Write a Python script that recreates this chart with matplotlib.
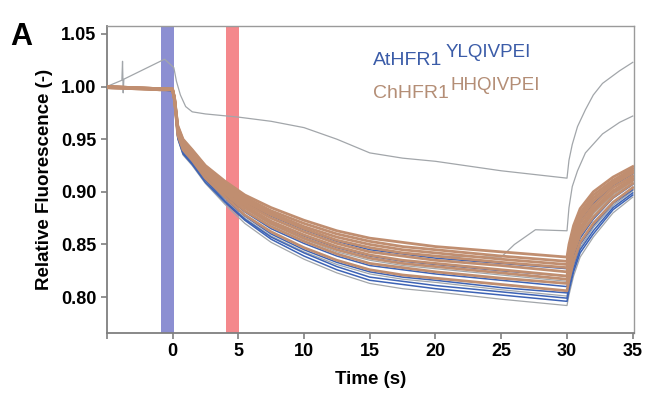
import matplotlib
matplotlib.use("Agg")
import matplotlib.pyplot as plt

plt.rcParams['font.family'] = ['Liberation Sans', 'DejaVu Sans']

# time points (s) at which the bundle traces were read
t_bundle = [-5, -1, 0, 0.15, 0.4, 0.8, 1.5, 2.5, 4, 5.5, 7.5, 10, 12.5, 15, 17.5, 20,
            25, 30, 30.15, 30.5, 31, 32, 33.5, 35]

# ChHFR1 HHQIVPEI traces (brown)
brown_traces = [
    [1.000, 0.998, 0.998, 0.990, 0.963, 0.950, 0.940, 0.925, 0.910, 0.897, 0.885, 0.873, 0.863, 0.856, 0.852, 0.848, 0.843, 0.838, 0.850, 0.868, 0.884, 0.900, 0.914, 0.924],
    [1.000, 0.998, 0.998, 0.990, 0.962, 0.949, 0.939, 0.924, 0.908, 0.895, 0.882, 0.870, 0.860, 0.853, 0.848, 0.845, 0.839, 0.834, 0.846, 0.864, 0.880, 0.897, 0.911, 0.922],
    [0.999, 0.998, 0.997, 0.989, 0.961, 0.948, 0.938, 0.922, 0.907, 0.893, 0.880, 0.867, 0.857, 0.850, 0.845, 0.842, 0.836, 0.831, 0.843, 0.861, 0.877, 0.894, 0.909, 0.920],
    [1.000, 0.997, 0.997, 0.989, 0.960, 0.947, 0.937, 0.921, 0.905, 0.891, 0.878, 0.865, 0.854, 0.847, 0.842, 0.839, 0.833, 0.828, 0.839, 0.857, 0.874, 0.891, 0.907, 0.918],
    [0.999, 0.998, 0.997, 0.989, 0.959, 0.946, 0.936, 0.920, 0.903, 0.889, 0.875, 0.862, 0.851, 0.843, 0.839, 0.835, 0.830, 0.824, 0.836, 0.854, 0.870, 0.887, 0.904, 0.915],
    [1.000, 0.998, 0.997, 0.988, 0.958, 0.944, 0.934, 0.918, 0.902, 0.887, 0.872, 0.859, 0.848, 0.840, 0.835, 0.832, 0.826, 0.820, 0.832, 0.850, 0.866, 0.884, 0.901, 0.913],
    [0.999, 0.997, 0.997, 0.988, 0.957, 0.943, 0.933, 0.917, 0.900, 0.885, 0.870, 0.856, 0.845, 0.837, 0.832, 0.829, 0.823, 0.817, 0.828, 0.846, 0.863, 0.881, 0.899, 0.911],
    [1.000, 0.998, 0.997, 0.987, 0.956, 0.942, 0.932, 0.916, 0.898, 0.882, 0.867, 0.853, 0.841, 0.832, 0.828, 0.824, 0.818, 0.813, 0.824, 0.842, 0.859, 0.876, 0.895, 0.908],
    [0.999, 0.997, 0.997, 0.987, 0.954, 0.940, 0.930, 0.913, 0.895, 0.878, 0.862, 0.847, 0.835, 0.826, 0.821, 0.818, 0.812, 0.806, 0.816, 0.834, 0.852, 0.870, 0.890, 0.904],
]

# AtHFR1 YLQIVPEI traces (blue)
blue_traces = [
    [1.000, 0.998, 0.997, 0.989, 0.960, 0.946, 0.936, 0.921, 0.905, 0.890, 0.877, 0.864, 0.853, 0.845, 0.841, 0.837, 0.832, 0.827, 0.838, 0.856, 0.873, 0.889, 0.906, 0.917],
    [0.999, 0.997, 0.997, 0.988, 0.958, 0.944, 0.934, 0.918, 0.901, 0.886, 0.872, 0.858, 0.847, 0.839, 0.834, 0.831, 0.825, 0.820, 0.831, 0.849, 0.866, 0.883, 0.900, 0.912],
    [1.000, 0.998, 0.997, 0.987, 0.955, 0.941, 0.931, 0.915, 0.897, 0.881, 0.865, 0.851, 0.839, 0.830, 0.826, 0.822, 0.816, 0.810, 0.821, 0.839, 0.856, 0.874, 0.894, 0.907],
    [0.999, 0.997, 0.996, 0.986, 0.953, 0.939, 0.929, 0.912, 0.894, 0.877, 0.860, 0.845, 0.833, 0.824, 0.819, 0.816, 0.809, 0.804, 0.814, 0.832, 0.850, 0.868, 0.889, 0.902],
    [1.000, 0.998, 0.997, 0.986, 0.952, 0.937, 0.927, 0.911, 0.891, 0.874, 0.857, 0.842, 0.829, 0.819, 0.815, 0.811, 0.805, 0.799, 0.809, 0.827, 0.845, 0.863, 0.885, 0.899],
    [0.999, 0.997, 0.996, 0.985, 0.951, 0.936, 0.926, 0.909, 0.890, 0.873, 0.855, 0.839, 0.826, 0.816, 0.812, 0.808, 0.802, 0.796, 0.806, 0.824, 0.842, 0.860, 0.883, 0.897],
]

# other traces (gray) that run inside the bundle
gray_traces = [
    [1.000, 0.998, 0.997, 0.988, 0.957, 0.943, 0.933, 0.917, 0.899, 0.884, 0.869, 0.855, 0.843, 0.835, 0.830, 0.827, 0.821, 0.815, 0.826, 0.844, 0.861, 0.879, 0.897, 0.910],
    [0.999, 0.997, 0.997, 0.986, 0.953, 0.938, 0.928, 0.911, 0.892, 0.875, 0.858, 0.843, 0.831, 0.822, 0.817, 0.814, 0.807, 0.801, 0.812, 0.830, 0.847, 0.866, 0.887, 0.901],
    [1.000, 0.997, 0.997, 0.985, 0.950, 0.935, 0.925, 0.908, 0.888, 0.870, 0.852, 0.836, 0.823, 0.813, 0.808, 0.805, 0.798, 0.792, 0.802, 0.820, 0.838, 0.857, 0.880, 0.895],
]

# gray trace that stays high
t_high = [-5, -3.85, -3.8, -3.75, -3.7, -0.6, 0.1, 0.3, 0.6, 1.0, 1.5, 2.5, 5, 7.5, 10,
          12.5, 15, 17.5, 20, 25, 30, 30.15, 30.4, 30.8, 31.4, 32, 32.7, 34, 35]
f_high = [1.000, 1.006, 1.024, 0.994, 1.007, 1.026, 1.018, 1.005, 0.992, 0.981, 0.976,
          0.974, 0.971, 0.967, 0.961, 0.950, 0.937, 0.932, 0.929, 0.920, 0.913, 0.930,
          0.945, 0.962, 0.978, 0.992, 1.003, 1.015, 1.023]

# gray trace that leaves the bundle at 25 s
t_mid = [-5, -1, 0, 0.15, 0.4, 0.8, 1.5, 2.5, 4, 5.5, 7.5, 10, 12.5, 15, 17.5, 20, 25,
         26, 27.6, 30, 30.15, 30.4, 30.8, 31.4, 32.7, 34, 35]
f_mid = [1.000, 0.998, 0.997, 0.989, 0.960, 0.947, 0.937, 0.921, 0.905, 0.891, 0.878,
         0.865, 0.854, 0.847, 0.842, 0.839, 0.838, 0.850, 0.864, 0.863, 0.885, 0.905,
         0.920, 0.937, 0.955, 0.966, 0.972]

blue_pulse = (-0.9, 0.1)
red_pulse = (4.1, 5.05)

x_ticks = [-5, 0, 5, 10, 15, 20, 25, 30, 35]
x_tick_labels = ['', '0', '5', '10', '15', '20', '25', '30', '35']
y_ticks = [0.80, 0.85, 0.90, 0.95, 1.00, 1.05]

brown = '#c08e70'
blue = '#3d63b5'
gray = '#a2a6aa'

fig = plt.figure(figsize=(6.47, 4.05), dpi=100)
ax = fig.add_axes([0.165, 0.178, 0.815, 0.758])

ax.axvspan(*blue_pulse, color='#8c8fd2', lw=0, zorder=1)
ax.axvspan(*red_pulse, color='#f4888c', lw=0, zorder=1)

# gray first, then blue, brown on top
for tr in gray_traces:
    ax.plot(t_bundle, tr, color=gray, lw=0.9, zorder=2)
ax.plot(t_high, f_high, color=gray, lw=0.9, zorder=2)
ax.plot(t_mid, f_mid, color=gray, lw=0.9, zorder=2)
for tr in blue_traces:
    ax.plot(t_bundle, tr, color=blue, lw=1.1, zorder=3)
for tr in brown_traces:
    ax.plot(t_bundle, tr, color=brown, lw=2.0, zorder=4)

ax.set_xlim(-5, 35.1)
ax.set_ylim(0.766, 1.0576)
ax.set_xticks(x_ticks)
ax.set_xticklabels(x_tick_labels)
ax.set_yticks(y_ticks)
ax.set_yticklabels(['%.2f' % v for v in y_ticks])

for side in ['left', 'bottom']:
    ax.spines[side].set_color('#7f7f7f')
    ax.spines[side].set_linewidth(1.3)
for side in ['top', 'right']:
    ax.spines[side].set_color('#9a9a9a')
    ax.spines[side].set_linewidth(1.0)
ax.tick_params(axis='both', colors='#7f7f7f', length=4, width=1.2, labelsize=13,
               labelcolor='black')
for lab in ax.get_xticklabels() + ax.get_yticklabels():
    lab.set_fontweight('bold')

ax.set_xlabel('Time (s)', fontsize=13.5, fontweight='bold', labelpad=8)
ax.set_ylabel('Relative Fluorescence (-)', fontsize=13.5, fontweight='bold', labelpad=6)

fig.text(10 / 647, 1 - 45 / 405, 'A', fontsize=22, fontweight='bold')

fig.text(373 / 647, 1 - 65 / 405, 'AtHFR1', color='#3b5ca8', fontsize=14)
fig.text(446 / 647, 1 - 57 / 405, 'YLQIVPEI', color='#3b5ca8', fontsize=13.5)
fig.text(373 / 647, 1 - 98 / 405, 'ChHFR1', color='#b48e76', fontsize=14)
fig.text(450 / 647, 1 - 90 / 405, 'HHQIVPEI', color='#b48e76', fontsize=13.5)

fig.savefig('out.png', dpi=100)
